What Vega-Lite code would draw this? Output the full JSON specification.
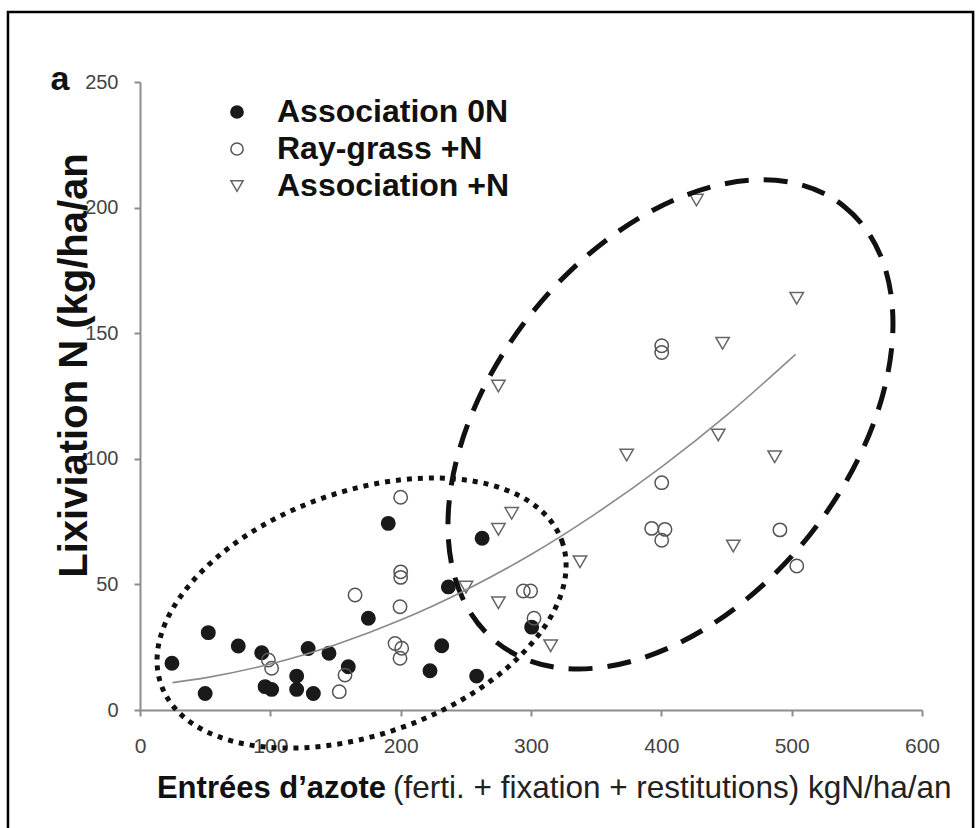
{
  "$schema": "https://vega.github.io/schema/vega-lite/v6.json",
  "width": 782,
  "height": 628,
  "autosize": {"type": "none"},
  "padding": {"left": 140, "top": 82, "right": 54, "bottom": 118},
  "background": "white",
  "config": {"view": {"stroke": null}, "font": "Liberation Sans"},
  "datasets": {
    "pts": [
      {"g": "Association 0N", "x": 24.5, "y": 18.6},
      {"g": "Association 0N", "x": 50, "y": 6.6},
      {"g": "Association 0N", "x": 52.4, "y": 30.8},
      {"g": "Association 0N", "x": 75.4, "y": 25.5},
      {"g": "Association 0N", "x": 93.4, "y": 22.8},
      {"g": "Association 0N", "x": 96, "y": 9.3},
      {"g": "Association 0N", "x": 101, "y": 8.2},
      {"g": "Association 0N", "x": 120.2, "y": 13.5},
      {"g": "Association 0N", "x": 120.2, "y": 8.2},
      {"g": "Association 0N", "x": 129, "y": 24.5},
      {"g": "Association 0N", "x": 133, "y": 6.6},
      {"g": "Association 0N", "x": 145, "y": 22.6},
      {"g": "Association 0N", "x": 159.8, "y": 17.2},
      {"g": "Association 0N", "x": 175.2, "y": 36.5},
      {"g": "Association 0N", "x": 190.5, "y": 74.3},
      {"g": "Association 0N", "x": 222.5, "y": 15.6},
      {"g": "Association 0N", "x": 231.5, "y": 25.6},
      {"g": "Association 0N", "x": 236.6, "y": 49},
      {"g": "Association 0N", "x": 258.3, "y": 13.5},
      {"g": "Association 0N", "x": 262.5, "y": 68.4},
      {"g": "Association 0N", "x": 300.5, "y": 33},
      {"g": "Ray-grass +N", "x": 98.5, "y": 19.9},
      {"g": "Ray-grass +N", "x": 101, "y": 16.6},
      {"g": "Ray-grass +N", "x": 152.9, "y": 7.3},
      {"g": "Ray-grass +N", "x": 157.3, "y": 13.9},
      {"g": "Ray-grass +N", "x": 165, "y": 45.8},
      {"g": "Ray-grass +N", "x": 195.7, "y": 26.5},
      {"g": "Ray-grass +N", "x": 200.8, "y": 24.6},
      {"g": "Ray-grass +N", "x": 199.5, "y": 20.6},
      {"g": "Ray-grass +N", "x": 199.5, "y": 41.1},
      {"g": "Ray-grass +N", "x": 200, "y": 52.8},
      {"g": "Ray-grass +N", "x": 200, "y": 55},
      {"g": "Ray-grass +N", "x": 200, "y": 84.7},
      {"g": "Ray-grass +N", "x": 294.1, "y": 47.4},
      {"g": "Ray-grass +N", "x": 299.7, "y": 47.4},
      {"g": "Ray-grass +N", "x": 302.3, "y": 36.5},
      {"g": "Ray-grass +N", "x": 392.6, "y": 72.3},
      {"g": "Ray-grass +N", "x": 402.8, "y": 71.9},
      {"g": "Ray-grass +N", "x": 400.3, "y": 67.6},
      {"g": "Ray-grass +N", "x": 400.3, "y": 90.5},
      {"g": "Ray-grass +N", "x": 400.3, "y": 145},
      {"g": "Ray-grass +N", "x": 400.3, "y": 142.3},
      {"g": "Ray-grass +N", "x": 491, "y": 71.7},
      {"g": "Ray-grass +N", "x": 503.9, "y": 57.3},
      {"g": "Association +N", "x": 250.1, "y": 48.9},
      {"g": "Association +N", "x": 275, "y": 42.7},
      {"g": "Association +N", "x": 275, "y": 71.9},
      {"g": "Association +N", "x": 285.2, "y": 78.3},
      {"g": "Association +N", "x": 275, "y": 129},
      {"g": "Association +N", "x": 315.1, "y": 25.6},
      {"g": "Association +N", "x": 337.6, "y": 59},
      {"g": "Association +N", "x": 373.4, "y": 101.5},
      {"g": "Association +N", "x": 427, "y": 203},
      {"g": "Association +N", "x": 443.7, "y": 109.5},
      {"g": "Association +N", "x": 447, "y": 146},
      {"g": "Association +N", "x": 455.2, "y": 65.3},
      {"g": "Association +N", "x": 487, "y": 100.8},
      {"g": "Association +N", "x": 503.9, "y": 163.9}
    ],
    "fit": [
      {"x": 25, "y": 10.9},
      {"x": 50, "y": 12.8},
      {"x": 100, "y": 18.3},
      {"x": 150, "y": 26.0},
      {"x": 200, "y": 35.8},
      {"x": 250, "y": 47.8},
      {"x": 300, "y": 61.9},
      {"x": 350, "y": 78.3},
      {"x": 400, "y": 96.7},
      {"x": 450, "y": 117.3},
      {"x": 503, "y": 141.6}
    ]
  },
  "layer": [
    {
      "data": {"name": "pts"},
      "mark": {"type": "point", "filled": true, "strokeWidth": 1.5, "size": 180, "opacity": 1},
      "encoding": {
        "x": {
          "field": "x", "type": "quantitative",
          "scale": {"domain": [0, 600], "nice": false},
          "axis": {"title": null, "values": [0, 100, 200, 300, 400, 500, 600], "grid": false, "labelFlush": false, "labelOverlap": false, "tickSize": 6, "tickWidth": 2, "tickColor": "#8c8c8c", "domainColor": "#8c8c8c", "domainWidth": 2, "labelFont": "Liberation Sans", "labelFontSize": 21, "labelColor": "#444444", "labelPadding": 19}
        },
        "y": {
          "field": "y", "type": "quantitative",
          "scale": {"domain": [0, 250], "nice": false},
          "axis": {"title": "Lixiviation N (kg/ha/an", "values": [0, 50, 100, 150, 200, 250], "grid": false, "labelOverlap": false, "labelFlush": false, "tickSize": 6, "tickWidth": 2, "tickColor": "#8c8c8c", "domainColor": "#8c8c8c", "domainWidth": 2, "labelFont": "Liberation Sans", "labelFontSize": 20, "labelColor": "#444444", "labelPadding": 16, "titleFont": "Liberation Sans", "titleFontSize": 40, "titleFontWeight": "bold", "titleColor": "#111111", "titleX": -66, "titleY": 283, "titleAngle": 270, "titleAlign": "center", "titleBaseline": "middle"}
        },
        "shape": {
          "field": "g", "type": "nominal",
          "scale": {"domain": ["Association 0N", "Ray-grass +N", "Association +N"], "range": ["circle", "circle", "triangle-down"]},
          "legend": {"title": null, "orient": "none", "legendX": 81, "legendY": 14, "labelFont": "Liberation Sans", "labelFontSize": 32, "labelFontWeight": "bold", "labelColor": "#111111", "labelLimit": 500, "symbolSize": 150, "labelOffset": 24, "rowPadding": 5, "symbolStrokeWidth": 1.5}
        },
        "fill": {
          "field": "g", "type": "nominal",
          "scale": {"domain": ["Association 0N", "Ray-grass +N", "Association +N"], "range": ["#1a1a1a", "transparent", "transparent"]},
          "legend": {"title": null, "orient": "none", "legendX": 81, "legendY": 14, "labelFont": "Liberation Sans", "labelFontSize": 32, "labelFontWeight": "bold", "labelColor": "#111111", "labelLimit": 500, "symbolSize": 150, "labelOffset": 24, "rowPadding": 5, "symbolStrokeWidth": 1.5}
        },
        "stroke": {
          "field": "g", "type": "nominal",
          "scale": {"domain": ["Association 0N", "Ray-grass +N", "Association +N"], "range": ["#1a1a1a", "#555555", "#666666"]},
          "legend": {"title": null, "orient": "none", "legendX": 81, "legendY": 14, "labelFont": "Liberation Sans", "labelFontSize": 32, "labelFontWeight": "bold", "labelColor": "#111111", "labelLimit": 500, "symbolSize": 150, "labelOffset": 24, "rowPadding": 5, "symbolStrokeWidth": 1.5}
        }
      }
    },
    {
      "data": {"values": [{}]},
      "mark": {"type": "rect", "filled": false, "stroke": "#000000", "strokeWidth": 2.5},
      "encoding": {
        "x": {"datum": -101.3, "type": "quantitative", "scale": {"domain": [0, 600], "nice": false}},
        "x2": {"datum": 639.2},
        "y": {"datum": 277.9, "type": "quantitative", "scale": {"domain": [0, 250], "nice": false}},
        "y2": {"datum": -60}
      }
    },
    {
      "data": {"values": [{}]},
      "mark": {"type": "point", "shape": "M1,0 C1,0.3148 0.5523,0.57 0,0.57 C-0.5523,0.57 -1,0.3148 -1,0 C-1,-0.3148 -0.5523,-0.57 0,-0.57 C0.5523,-0.57 1,-0.3148 1,0 Z", "size": 181306, "angle": 340.2, "filled": false, "stroke": "#111111", "strokeWidth": 5, "strokeDash": [5, 6], "opacity": 1},
      "encoding": {
        "x": {"datum": 170, "type": "quantitative", "scale": {"domain": [0, 600], "nice": false}},
        "y": {"datum": 38.6, "type": "quantitative", "scale": {"domain": [0, 250], "nice": false}}
      }
    },
    {
      "data": {"values": [{}]},
      "mark": {"type": "point", "shape": "M1,0 C1,0.3524 0.5523,0.638 0,0.638 C-0.5523,0.638 -1,0.3524 -1,0 C-1,-0.3524 -0.5523,-0.638 0,-0.638 C0.5523,-0.638 1,-0.3524 1,0 Z", "size": 310695, "angle": 308.55, "filled": false, "stroke": "#111111", "strokeWidth": 5, "strokeDash": [24, 15], "opacity": 1},
      "encoding": {
        "x": {"datum": 407, "type": "quantitative", "scale": {"domain": [0, 600], "nice": false}},
        "y": {"datum": 113.7, "type": "quantitative", "scale": {"domain": [0, 250], "nice": false}}
      }
    },
    {
      "data": {"name": "fit"},
      "mark": {"type": "line", "color": "#8a8a8a", "strokeWidth": 1.6, "interpolate": "monotone"},
      "encoding": {
        "x": {"field": "x", "type": "quantitative", "scale": {"domain": [0, 600], "nice": false}},
        "y": {"field": "y", "type": "quantitative", "scale": {"domain": [0, 250], "nice": false}}
      }
    },
    {
      "data": {"values": [{}]},
      "mark": {"type": "text", "fontSize": 34, "fontWeight": "bold", "color": "#111111", "align": "center", "baseline": "alphabetic", "font": "Liberation Sans"},
      "encoding": {
        "x": {"datum": -61.4, "type": "quantitative", "scale": {"domain": [0, 600], "nice": false}},
        "y": {"datum": 246.8, "type": "quantitative", "scale": {"domain": [0, 250], "nice": false}},
        "text": {"value": "a"}
      }
    },
    {
      "data": {"values": [{}]},
      "mark": {"type": "text", "fontSize": 31, "fontWeight": "bold", "color": "#111111", "align": "left", "baseline": "alphabetic", "font": "Liberation Sans"},
      "encoding": {
        "x": {"datum": 13, "type": "quantitative", "scale": {"domain": [0, 600], "nice": false}},
        "y": {"datum": -35, "type": "quantitative", "scale": {"domain": [0, 250], "nice": false}},
        "text": {"value": "Entrées d’azote"}
      }
    },
    {
      "data": {"values": [{}]},
      "mark": {"type": "text", "fontSize": 31.5, "fontWeight": "normal", "color": "#222222", "align": "left", "baseline": "alphabetic", "font": "Liberation Sans"},
      "encoding": {
        "x": {"datum": 194.1, "type": "quantitative", "scale": {"domain": [0, 600], "nice": false}},
        "y": {"datum": -35, "type": "quantitative", "scale": {"domain": [0, 250], "nice": false}},
        "text": {"value": "(ferti. + fixation + restitutions) kgN/ha/an"}
      }
    }
  ]
}
